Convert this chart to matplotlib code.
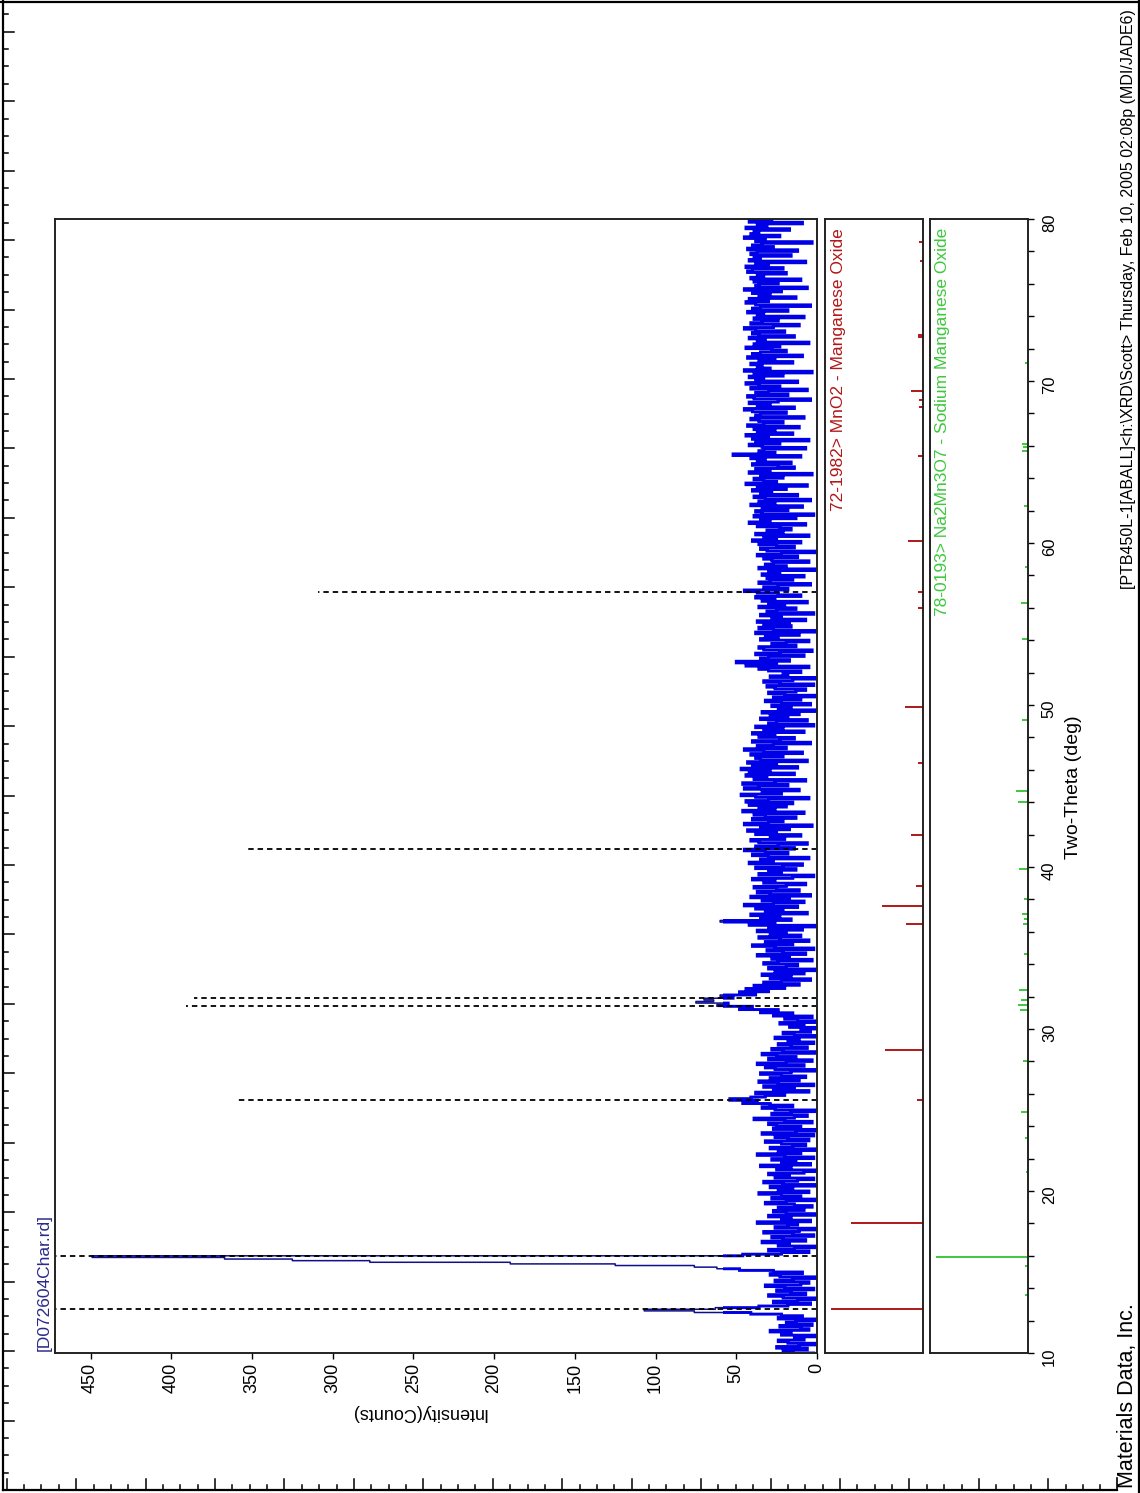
import numpy as np
import matplotlib
matplotlib.use("Agg")
import matplotlib.pyplot as plt
from matplotlib import font_manager
from matplotlib.patches import Rectangle
from matplotlib.ticker import MultipleLocator

# ---------------- data ----------------
theta_start, theta_step = 10.0, 0.1
# counts for 10.0 .. 80.0 deg two-theta, one row per degree
counts = [
    2, 15, 21, 6, 25, 11, 0, 18, 24, 8,
    14, 1, 22, 16, 29, 5, 10, 23, 3, 19,
    13, 0, 24, 9, 22, 41, 76, 107, 63, 36,
    18, 4, 27, 12, 0, 21, 30, 7, 16, 25,
    2, 20, 32, 10, 5, 26, 15, 0, 23, 29,
    9, 27, 48, 62, 76, 125, 190, 277, 325, 367,
    449, 46, 22, 5, 30, 14, 0, 24, 17, 34,
    7, 21, 28, 2, 15, 33, 11, 0, 26, 18,
    12, 37, 4, 22, 16, 30, 1, 19, 27, 8,
    24, 3, 14, 32, 19, 0, 28, 10, 22, 36,
    5, 24, 15, 29, 0, 21, 33, 12, 2, 26,
    17, 30, 8, 1, 25, 16, 35, 4, 22, 13,
    28, 2, 20, 37, 10, 24, 0, 29, 15, 7,
    22, 32, 5, 18, 26, 2, 34, 13, 0, 27,
    10, 25, 30, 3, 20, 39, 14, 6, 28, 16,
    1, 26, 34, 15, 29, 46, 37, 54, 41, 32,
    20, 38, 5, 27, 14, 33, 2, 24, 36, 11,
    29, 7, 22, 35, 16, 0, 26, 32, 8, 37,
    19, 3, 30, 13, 25, 34, 1, 21, 28, 6,
    16, 24, 2, 18, 11, 26, 0, 14, 21, 4,
    10, 0, 17, 8, 23, 0, 12, 20, 3, 27,
    15, 35, 24, 48, 40, 62, 55, 75, 64, 70,
    52, 60, 38, 48, 30, 44, 20, 39, 11, 33,
    22, 4, 29, 16, 34, 8, 26, 1, 30, 19,
    12, 33, 24, 3, 28, 17, 37, 7, 21, 31,
    2, 26, 40, 15, 32, 5, 23, 36, 10, 29,
    19, 37, 9, 30, 1, 42, 26, 60, 16, 35,
    23, 41, 6, 32, 21, 38, 12, 45, 27, 8,
    34, 17, 41, 4, 29, 37, 11, 25, 39, 19,
    7, 33, 26, 40, 15, 2, 36, 22, 30, 13,
    38, 21, 9, 42, 27, 35, 5, 30, 40, 18,
    32, 45, 14, 38, 24, 6, 36, 41, 20, 29,
    10, 38, 25, 43, 17, 35, 3, 45, 30, 21,
    40, 13, 32, 39, 8, 46, 26, 36, 19, 42,
    15, 44, 30, 5, 38, 47, 22, 34, 11, 45,
    36, 18, 46, 26, 7, 39, 31, 44, 14, 42,
    29, 47, 12, 40, 25, 43, 6, 35, 38, 21,
    41, 9, 33, 45, 19, 37, 27, 4, 40, 23,
    14, 36, 26, 40, 8, 33, 21, 38, 2, 30,
    25, 6, 35, 18, 29, 11, 34, 0, 24, 16,
    28, 4, 22, 32, 10, 27, 0, 20, 30, 13,
    7, 26, 31, 2, 23, 33, 15, 0, 29, 18,
    21, 10, 30, 36, 5, 44, 25, 50, 17, 35,
    30, 8, 38, 23, 3, 33, 36, 13, 28, 19,
    5, 35, 24, 32, 11, 38, 0, 27, 36, 16,
    33, 17, 37, 7, 28, 22, 35, 2, 31, 25,
    13, 36, 20, 30, 6, 34, 26, 38, 10, 24,
    37, 45, 18, 33, 24, 4, 36, 29, 15, 31,
    8, 34, 23, 30, 1, 36, 19, 32, 27, 5,
    28, 33, 12, 37, 22, 0, 31, 35, 14, 25,
    36, 10, 40, 25, 33, 5, 38, 21, 31, 16,
    23, 37, 7, 42, 29, 35, 13, 39, 2, 34,
    38, 18, 34, 9, 41, 26, 36, 4, 32, 39,
    12, 35, 28, 40, 19, 37, 6, 44, 25, 33,
    39, 21, 35, 3, 42, 29, 38, 14, 24, 40,
    16, 37, 32, 41, 10, 52, 26, 36, 33, 7,
    34, 42, 23, 38, 5, 40, 30, 44, 15, 37,
    26, 39, 11, 43, 33, 21, 36, 41, 8, 38,
    35, 19, 40, 45, 14, 37, 29, 42, 24, 4,
    39, 43, 18, 38, 30, 6, 41, 23, 36, 44,
    12, 38, 33, 42, 21, 39, 3, 45, 29, 37,
    34, 41, 15, 36, 26, 43, 9, 40, 35, 19,
    28, 44, 23, 39, 5, 37, 32, 42, 14, 36,
    40, 20, 38, 45, 27, 11, 41, 34, 24, 39,
    8, 37, 33, 43, 18, 40, 35, 4, 38, 44,
    30, 42, 13, 36, 29, 40, 22, 45, 6, 38,
    36, 24, 39, 10, 41, 33, 37, 19, 43, 40,
    21, 44, 30, 38, 7, 42, 35, 39, 16, 41,
    37, 12, 43, 27, 40, 34, 3, 38, 32, 45,
    23, 41, 36, 39, 17, 44, 31, 37, 9, 42,
    28,
]

# peak markers (two-theta, marker height in counts)
marker_theta = [12.7, 16.0, 25.6, 31.45, 31.9, 41.1, 57.0]
marker_height = [500, 500, 360, 391, 386, 353, 309]

# reference pattern 72-1982 MnO2 (two-theta, relative intensity %)
mno2_theta = [12.7, 18.0, 25.6, 28.7, 36.5, 37.6, 38.8, 42.0, 46.4, 49.9,
              56.0, 57.0, 60.1, 65.4, 68.4, 68.8, 69.4, 72.7, 72.85, 77.4, 78.6]
mno2_rel = [100, 78, 6, 41, 18, 44, 8, 13, 5, 19,
            5, 5, 16, 5, 4, 4, 13, 5, 5, 3, 4]

# reference pattern 78-0193 Na2Mn3O7 (two-theta, relative intensity %)
na_theta = [13.6, 15.4, 15.9, 21.2, 23.3, 24.9, 28.0, 31.2, 31.5, 31.8,
            32.4, 34.6, 36.5, 36.8, 37.1, 38.0, 39.9, 44.0, 44.7, 49.1,
            54.1, 56.3, 58.5, 62.3, 65.7, 65.9, 66.1, 71.1]
na_rel = [3, 3, 100, 2, 3, 8, 5, 9, 11, 8,
          10, 4, 5, 4, 6, 4, 10, 11, 13, 7,
          7, 8, 3, 4, 6, 5, 6, 3]

two_theta = theta_start + theta_step * np.arange(len(counts))

# ---------------- style ----------------
def pick(*names):
    for n in names:
        try:
            font_manager.findfont(n, fallback_to_default=False)
            return n
        except Exception:
            pass
    return "DejaVu Sans"

SANS = pick("Liberation Sans", "Arial")
NARROW = pick("Liberation Sans Narrow", "Liberation Sans")
plt.rcParams["font.family"] = [SANS, "DejaVu Sans"]

W, H = 1140, 1493
fig = plt.figure(figsize=(W / 100, H / 100), dpi=100)
fig.patch.set_facecolor("white")


def rect(x0, y0, x1, y1):
    return [x0 / W, 1 - y1 / H, (x1 - x0) / W, (y1 - y0) / H]


BLUE = "#0000e6"
DARKBLUE = "#10108a"
RED = "#b01818"
GREEN = "#3cc83c"
NAVY = "#2a2a8c"

# ---------------- main pattern ----------------
ax = fig.add_axes(rect(55, 219, 817, 1353))
# thin outline for the whole scan, heavier stroke for the dense background band
ax.plot(counts, two_theta, drawstyle="steps-post", color=DARKBLUE, lw=1.1)
band, = ax.plot(counts, two_theta, drawstyle="steps-post", color=BLUE, lw=2.1,
                solid_joinstyle="miter")
band.set_clip_path(Rectangle((0, 10), 58, 70, transform=ax.transData))
ax.hlines(marker_theta, 0, marker_height, colors="black",
          linestyles=(0, (3, 2.2)), lw=1.3)
ax.set_xlim(472, 0)
ax.set_ylim(10, 80)
ax.set_xticks(np.arange(0, 451, 50))
ax.set_yticks([])
ax.tick_params(axis="x", direction="out", length=4, width=1,
               labelrotation=90, labelsize=13, pad=3)
for s in ax.spines.values():
    s.set_linewidth(1.4)
    s.set_color("#222222")

# ---------------- reference patterns ----------------
ax2 = fig.add_axes(rect(825, 219, 923, 1353))
ax2.hlines(mno2_theta, 0, mno2_rel, colors=RED, lw=1.4)
ax2.set_xlim(106, 0)
ax2.set_ylim(10, 80)
ax2.set_xticks([])
ax2.set_yticks([])
ax2.text(0.14, 0.992, "72-1982> MnO2 - Manganese Oxide", transform=ax2.transAxes,
         rotation=90, ha="center", va="top", color=RED, fontsize=12.5,
         family=[NARROW, "DejaVu Sans"])

ax3 = fig.add_axes(rect(930, 219, 1028, 1353))
ax3.hlines(na_theta, 0, na_rel, colors=GREEN, lw=1.4)
ax3.set_xlim(106, 0)
ax3.set_ylim(10, 80)
ax3.set_xticks([])
ax3.yaxis.set_ticks_position("right")
ax3.yaxis.set_major_locator(MultipleLocator(10))
ax3.yaxis.set_minor_locator(MultipleLocator(2))
ax3.tick_params(axis="y", which="both", direction="out", length=4, width=1)
ax3.tick_params(axis="y", which="major", labelrotation=90, labelsize=12, pad=6)
ax3.text(0.13, 0.992, "78-0193> Na2Mn3O7 - Sodium Manganese Oxide",
         transform=ax3.transAxes, rotation=90, ha="center", va="top",
         color=GREEN, fontsize=12.5, family=[NARROW, "DejaVu Sans"])

for a in (ax2, ax3):
    for s in a.spines.values():
        s.set_linewidth(1.4)
        s.set_color("#222222")

# ---------------- labels ----------------
fig.text(1074 / W, 1 - 787 / H, "Two-Theta (deg)", rotation=90,
         ha="center", va="center", fontsize=14)
fig.text(418 / W, 1 - 1412 / H, "Intensity(Counts)", rotation=180,
         ha="center", va="center", fontsize=13)
fig.text(44 / W, 1 - 1351 / H, "[D072604Char.rd]", rotation=90,
         ha="center", va="bottom", fontsize=12.5, color=NAVY)
fig.text(1127 / W, 1 - 1488 / H, "Materials Data, Inc.", rotation=90,
         ha="center", va="bottom", fontsize=15.5)
fig.text(1128 / W, 1 - 589 / H,
         "[PTB450L-1[ABALL]<h:\\XRD\\Scott> Thursday, Feb 10, 2005 02:08p (MDI/JADE6)",
         rotation=90, ha="center", va="bottom", fontsize=11.5)

# ---------------- page frame with rulers ----------------
frame = fig.add_axes([0, 0, 1, 1], zorder=-1)
frame.set_xlim(0, W)
frame.set_ylim(H, 0)
frame.axis("off")
frame.plot([3, 3], [0, 1490], color="black", lw=1.6)
frame.plot([3, 1117], [1490, 1490], color="black", lw=1.6)
frame.plot([0, W], [1.5, 1.5], color="black", lw=1.6)
frame.plot([1138.5, 1138.5], [0, H], color="black", lw=1.6)
frame.plot([1117, 1117], [1478, 1490], color="black", lw=1.2)

step = 17.36
k = 0
while 1490 - k * step > 2:
    y = 1490 - k * step
    ln = 11 if k % 4 == 0 else 5
    frame.plot([3, 3 + ln], [y, y], color="black", lw=1.1)
    k += 1
k = 0
while 6.7 + k * step < 1117:
    x = 6.7 + k * step
    ln = 11 if k % 4 == 0 else 5
    frame.plot([x, x], [1490, 1490 - ln], color="black", lw=1.1)
    k += 1

fig.savefig("out.png", dpi=100, facecolor="white")
